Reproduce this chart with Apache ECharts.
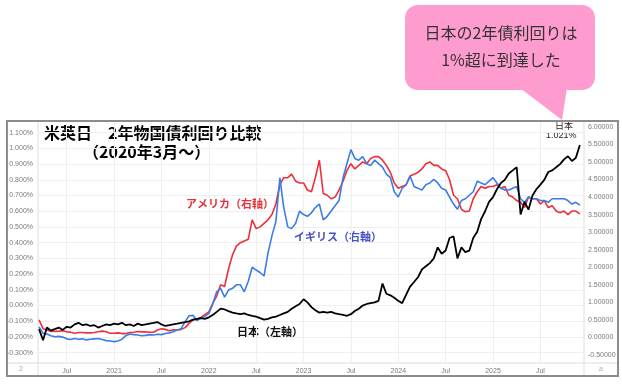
<!DOCTYPE html>
<html><head><meta charset="utf-8">
<script src="https://cdn.jsdelivr.net/npm/echarts@6/dist/echarts.min.js"></script>
<style>html,body{margin:0;padding:0;background:#fff}#c{width:622px;height:386px}</style>
</head><body><div id="c"></div>
<script>
// ---- data (semi-monthly readings) ----
const dates = [
'2020-03-16','2020-04-01','2020-04-16','2020-05-01','2020-05-16','2020-06-01','2020-06-16','2020-07-01','2020-07-16','2020-08-01','2020-08-16','2020-09-01','2020-09-16','2020-10-01','2020-10-16','2020-11-01','2020-11-16','2020-12-01','2020-12-16',
'2021-01-01','2021-01-16','2021-02-01','2021-02-16','2021-03-01','2021-03-16','2021-04-01','2021-04-16','2021-05-01','2021-05-16','2021-06-01','2021-06-16','2021-07-01','2021-07-16','2021-08-01','2021-08-16','2021-09-01','2021-09-16','2021-10-01','2021-10-16','2021-11-01','2021-11-16','2021-12-01','2021-12-16',
'2022-01-01','2022-01-16','2022-02-01','2022-02-16','2022-03-01','2022-03-16','2022-04-01','2022-04-16','2022-05-01','2022-05-16','2022-06-01','2022-06-16','2022-07-01','2022-07-16','2022-08-01','2022-08-16','2022-09-01','2022-09-16','2022-10-01','2022-10-16','2022-11-01','2022-11-16','2022-12-01','2022-12-16',
'2023-01-01','2023-01-16','2023-02-01','2023-02-16','2023-03-01','2023-03-16','2023-04-01','2023-04-16','2023-05-01','2023-05-16','2023-06-01','2023-06-16','2023-07-01','2023-07-16','2023-08-01','2023-08-16','2023-09-01','2023-09-16','2023-10-01','2023-10-16','2023-11-01','2023-11-16','2023-12-01','2023-12-16',
'2024-01-01','2024-01-16','2024-02-01','2024-02-16','2024-03-01','2024-03-16','2024-04-01','2024-04-16','2024-05-01','2024-05-16','2024-06-01','2024-06-16','2024-07-01','2024-07-16','2024-08-01','2024-08-16','2024-09-01','2024-09-16','2024-10-01','2024-10-16','2024-11-01','2024-11-16','2024-12-01','2024-12-16',
'2025-01-01','2025-01-16','2025-02-01','2025-02-16','2025-03-01','2025-03-16','2025-04-01','2025-04-16','2025-05-01','2025-05-16','2025-06-01','2025-06-16','2025-07-01','2025-07-16','2025-08-01','2025-08-16','2025-09-01','2025-09-16','2025-10-01','2025-10-16','2025-11-01','2025-11-16','2025-12-01'
];
// Japan 2Y (%), left axis
const japan = [
-0.15,-0.22,-0.14,-0.16,-0.15,-0.14,-0.155,-0.135,-0.14,-0.12,-0.11,-0.125,-0.12,-0.13,-0.125,-0.14,-0.13,-0.12,-0.125,
-0.115,-0.12,-0.11,-0.125,-0.12,-0.13,-0.115,-0.125,-0.12,-0.115,-0.11,-0.105,-0.12,-0.13,-0.125,-0.12,-0.115,-0.11,-0.105,-0.10,-0.09,-0.085,-0.08,-0.085,
-0.075,-0.06,-0.04,-0.02,-0.025,-0.035,-0.045,-0.05,-0.055,-0.05,-0.06,-0.065,-0.07,-0.08,-0.09,-0.085,-0.075,-0.07,-0.06,-0.05,-0.04,-0.02,-0.005,0.01,
0.04,0.02,-0.01,-0.03,-0.045,-0.04,-0.045,-0.04,-0.05,-0.055,-0.06,-0.065,-0.055,-0.035,-0.02,0.0,0.01,0.015,0.02,0.03,0.14,0.075,0.065,0.05,
0.03,0.015,0.07,0.12,0.15,0.18,0.23,0.25,0.27,0.30,0.37,0.33,0.35,0.43,0.44,0.30,0.37,0.34,0.35,0.43,0.47,0.55,0.60,0.66,
0.69,0.74,0.78,0.80,0.84,0.86,0.88,0.58,0.66,0.61,0.70,0.74,0.77,0.80,0.85,0.86,0.88,0.90,0.93,0.95,0.92,0.94,1.021
];
// US 2Y (%), right axis
const usa = [
0.50,0.25,0.21,0.18,0.17,0.18,0.19,0.16,0.15,0.12,0.14,0.14,0.13,0.13,0.14,0.16,0.18,0.16,0.12,
0.12,0.13,0.11,0.11,0.14,0.15,0.17,0.16,0.16,0.15,0.15,0.21,0.25,0.23,0.19,0.22,0.21,0.23,0.28,0.40,0.50,0.52,0.57,0.65,
0.73,0.97,1.18,1.50,1.45,1.95,2.35,2.60,2.70,2.75,2.80,3.35,3.10,3.15,3.25,3.35,3.50,3.80,4.35,4.55,4.55,4.65,4.45,4.40,
4.40,4.20,4.15,4.55,5.05,4.10,4.05,3.95,4.00,4.20,4.45,4.75,4.95,4.80,4.90,5.00,4.95,5.10,5.15,5.15,5.05,4.90,4.70,4.40,
4.25,4.30,4.35,4.60,4.65,4.70,4.80,4.95,5.00,4.90,4.90,4.80,4.75,4.50,4.05,3.95,3.65,3.58,3.60,3.95,4.15,4.30,4.25,4.30,
4.30,4.35,4.25,4.30,4.05,4.00,3.90,3.85,3.70,4.00,3.95,3.95,3.80,3.90,3.70,3.75,3.60,3.55,3.60,3.50,3.60,3.60,3.52
];
// UK 2Y (%), right axis
const uk = [
0.30,0.12,0.10,0.05,0.02,0.03,0.01,-0.04,-0.06,-0.03,-0.05,-0.04,-0.07,-0.05,-0.04,-0.03,-0.06,-0.09,-0.10,
-0.12,-0.10,-0.05,0.05,0.10,0.08,0.07,0.05,0.06,0.08,0.07,0.09,0.08,0.11,0.13,0.16,0.21,0.25,0.45,0.62,0.63,0.48,0.55,0.60,
0.68,0.95,1.30,1.40,1.15,1.35,1.40,1.50,1.50,1.30,1.60,2.00,1.92,1.85,1.75,2.40,2.90,3.30,4.55,3.70,3.15,3.10,3.25,3.60,
3.50,3.45,3.55,3.70,3.80,3.35,3.45,3.60,3.75,3.90,4.55,4.95,5.35,5.10,5.05,5.15,4.95,4.90,5.05,4.95,4.85,4.65,4.55,4.15,
4.00,4.25,4.35,4.60,4.30,4.25,4.20,4.35,4.40,4.50,4.40,4.25,4.20,4.00,3.80,3.65,3.90,3.95,4.05,4.15,4.45,4.40,4.35,4.45,
4.55,4.40,4.25,4.20,4.20,4.25,4.30,3.95,3.85,4.00,3.95,3.95,3.90,3.90,3.85,3.95,3.95,3.95,3.95,3.90,3.80,3.85,3.77
];
// x tick labels
const xTickDates = ['2020-07-01','2021-01-01','2021-07-01','2022-01-01','2022-07-01','2023-01-01','2023-07-01','2024-01-01','2024-07-01','2025-01-01','2025-07-01'];
const xTickLabels = ['Jul','2021','Jul','2022','Jul','2023','Jul','2024','Jul','2025','Jul'];
const xRange = ['2020-03-12','2025-12-17'];

// ---- helpers ----
function toYear(s){const p=s.split('-').map(Number);return p[0]+(p[1]-1)/12+(p[2]-1)/365;}
const X0=toYear(xRange[0]), X1=toYear(xRange[1]);
const tickVals = xTickDates.map(toYear);
function tickLabel(v){let best=0,bd=1e9;tickVals.forEach((t,i)=>{const d=Math.abs(t-v);if(d<bd){bd=d;best=i;}});return xTickLabels[best];}
const pair = arr => dates.map((d,i)=>[toYear(d),arr[i]]);

const chart = echarts.init(document.getElementById('c'),null,{renderer:'canvas'});
const gray='#7a7a7a', axisFont='Liberation Sans', cjk='"Noto Sans CJK JP","Noto Sans CJK SC",sans-serif';
chart.setOption({
  animation:false,
  backgroundColor:'#ffffff',
  grid:[
    {left:38,right:38,top:132.7,bottom:33.3},
    {left:38,right:38,top:126.8,bottom:31},
    {left:38,right:38,top:122,bottom:23}
  ],
  xAxis:[
    {gridIndex:0,type:'value',min:X0,max:X1,show:false},
    {gridIndex:1,type:'value',min:X0,max:X1,show:false},
    {gridIndex:2,type:'value',min:X0,max:X1,
     axisLine:{show:false},
     axisTick:{show:false,customValues:tickVals},
     axisLabel:{customValues:tickVals,formatter:v=>tickLabel(v),color:gray,fontSize:7,fontFamily:axisFont,margin:5},
     splitLine:{show:true,lineStyle:{color:'#efefef',width:1}}}
  ],
  yAxis:[
    {gridIndex:0,type:'value',position:'left',min:-0.3,max:1.1,interval:0.1,
     axisLine:{show:false},axisTick:{show:false},
     axisLabel:{formatter:v=>(Math.abs(v)<1e-9?0:v).toFixed(3)+'%',color:gray,fontSize:7,fontFamily:axisFont,margin:5},
     splitLine:{show:true,lineStyle:{color:'#efefef',width:1}}},
    {gridIndex:1,type:'value',position:'right',min:-0.5,max:6,interval:0.5,
     axisLine:{show:false},axisTick:{show:false},
     axisLabel:{formatter:v=>(Math.abs(v)<1e-9?0:v).toFixed(5),color:gray,fontSize:7,fontFamily:axisFont,margin:4},
     splitLine:{show:false}},
    {gridIndex:2,type:'value',show:false,min:0,max:1}
  ],
  series:[
    {name:'アメリカ',type:'line',xAxisIndex:1,yAxisIndex:1,data:pair(usa),showSymbol:false,symbol:'none',
     lineStyle:{color:'#ee2f3a',width:1.6},itemStyle:{color:'#ee2f3a'},z:2},
    {name:'イギリス',type:'line',xAxisIndex:1,yAxisIndex:1,data:pair(uk),showSymbol:false,symbol:'none',
     lineStyle:{color:'#3b7de8',width:1.6},itemStyle:{color:'#3b7de8'},z:3},
    {name:'日本',type:'line',xAxisIndex:0,yAxisIndex:0,data:pair(japan),showSymbol:false,symbol:'none',
     lineStyle:{color:'#000000',width:1.8},itemStyle:{color:'#000'},z:4}
  ],
  graphic:[
    {type:'line',shape:{x1:7,y1:363,x2:618,y2:363},style:{stroke:'#dcdcdc',lineWidth:1},silent:true},
    {type:'line',shape:{x1:38,y1:121,x2:38,y2:376},style:{stroke:'#dcdcdc',lineWidth:1},silent:true},
    {type:'line',shape:{x1:584,y1:121,x2:584,y2:376},style:{stroke:'#dcdcdc',lineWidth:1},silent:true},
    {type:'rect',shape:{x:7,y:121,width:611,height:255},style:{fill:'none',stroke:'#8c8c8c',lineWidth:2},silent:true,z:10},
    {type:'text',left:19,top:366,style:{text:'2',fill:'#aaa',fontSize:7,fontFamily:axisFont}},
    {type:'text',left:599,top:366,style:{text:'a',fill:'#aaa',fontSize:7,fontFamily:axisFont}},
    {type:'text',left:44,top:125,style:{text:'米英日　2年物国債利回り比較',fill:'#000',fontSize:16,fontWeight:'bold',fontFamily:cjk}},
    {type:'text',left:83,top:144,style:{text:'（2020年3月～）',fill:'#000',fontSize:16,fontWeight:'bold',fontFamily:cjk}},
    {type:'text',left:186,top:198,style:{text:'アメリカ（右軸）',fill:'#e5323a',fontSize:11,fontWeight:'bold',fontFamily:cjk}},
    {type:'text',left:294,top:231,style:{text:'イギリス（右軸）',fill:'#4652c4',fontSize:11,fontWeight:'bold',fontFamily:cjk}},
    {type:'text',left:237,top:326,style:{text:'日本（左軸）',fill:'#111',fontSize:11,fontWeight:'bold',fontFamily:cjk}},
    {type:'text',left:555,top:121,style:{text:'日本',fill:'#222',fontSize:9,fontFamily:cjk}},
    {type:'text',left:546,top:131,style:{text:'1.021%',fill:'#222',fontSize:9,fontFamily:axisFont}},
    {type:'polygon',shape:{points:[[520,88],[567,88],[562,120]]},style:{fill:'#ff9ccf'},z:20},
    {type:'rect',shape:{x:405,y:5,width:190,height:85,r:13},style:{fill:'#ff9ccf'},z:20},
    {type:'text',x:501,y:33,z:21,style:{text:'日本の2年債利回りは',fill:'#333',fontSize:16,fontFamily:cjk,align:'center',verticalAlign:'middle'}},
    {type:'text',x:501,y:60,z:21,style:{text:'1%超に到達した',fill:'#333',fontSize:16,fontFamily:cjk,align:'center',verticalAlign:'middle'}}
  ]
});
</script>
</body></html>
